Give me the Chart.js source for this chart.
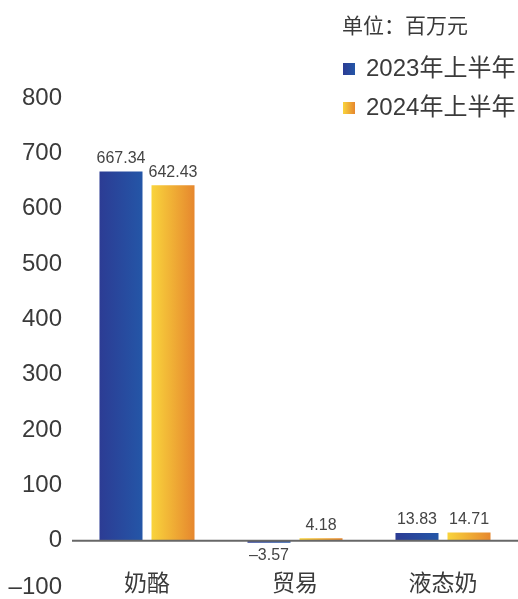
<!DOCTYPE html>
<html>
<head>
<meta charset="utf-8">
<script src="https://cdn.jsdelivr.net/npm/chart.js@4/dist/chart.umd.min.js"></script>
<style>
  html, body { margin: 0; padding: 0; background: #ffffff; }
  #wrap { position: relative; width: 518px; height: 599px; }
</style>
</head>
<body>
<div id="wrap"><canvas id="c" width="518" height="599"></canvas></div>
<script>
// Segment profit, millions of yuan
const categories = ['奶酪', '贸易', '液态奶'];
const seriesNames = ['2023年上半年', '2024年上半年'];
const values2023 = [667.34, -3.57, 13.83];
const values2024 = [642.43, 4.18, 14.71];
const yTicks = [800, 700, 600, 500, 400, 300, 200, 100, 0, -100];
const unitText = '单位：百万元';

const FONT = '"Liberation Sans", "Noto Sans CJK SC", sans-serif';
const CAT_PCT = 0.703;
const BAR_PCT = 0.827;

const palette = [
  ['#2C3C94', '#2456A7'],
  ['#F9D43C', '#E6872E']
];

// Horizontal gradient across each bar, computed from the x scale geometry
function barGradient(ctx) {
  const chart = ctx.chart;
  const xs = chart.scales.x;
  const colors = palette[ctx.datasetIndex];
  if (!xs || !chart.chartArea) return colors[0];
  const n = categories.length;
  const catW = xs.width / n;
  const groupW = catW * CAT_PCT;
  const barW = groupW / 2 * BAR_PCT;
  const cx = xs.getPixelForValue(ctx.dataIndex) + (ctx.datasetIndex === 0 ? -groupW / 4 : groupW / 4);
  const g = chart.ctx.createLinearGradient(cx - barW / 2, 0, cx + barW / 2, 0);
  g.addColorStop(0, colors[0]);
  g.addColorStop(1, colors[1]);
  return g;
}

function fmt(v) {
  return (v < 0 ? '–' + Math.abs(v).toFixed(2) : v.toFixed(2));
}

const decorations = {
  id: 'decorations',
  afterDatasetsDraw(chart) {
    const c = chart.ctx;
    const ys = chart.scales.y;
    const xs = chart.scales.x;
    const zeroY = ys.getPixelForValue(0);

    // zero line over the bar bases
    c.save();
    c.strokeStyle = '#676767';
    c.lineWidth = 2;
    c.beginPath();
    c.moveTo(72, zeroY);
    c.lineTo(chart.width, zeroY);
    c.stroke();

    // value labels
    c.fillStyle = '#444444';
    c.font = '16px ' + FONT;
    c.textAlign = 'center';
    c.textBaseline = 'middle';
    chart.data.datasets.forEach((ds, di) => {
      const meta = chart.getDatasetMeta(di);
      meta.data.forEach((bar, i) => {
        const v = ds.data[i];
        const y = v >= 0 ? bar.y - 13 : bar.y + 13;
        c.fillText(fmt(v), bar.x, y);
      });
    });

    // y tick labels
    c.fillStyle = '#3a3a3a';
    c.font = '24px ' + FONT;
    c.textAlign = 'right';
    yTicks.forEach(t => {
      let y = ys.getPixelForValue(t);
      y = Math.min(y, chart.height - 12);
      c.fillText(t < 0 ? '–' + Math.abs(t) : String(t), 62, y);
    });

    // category labels
    c.textAlign = 'center';
    c.font = '23px ' + FONT;
    categories.forEach((cat, i) => {
      c.fillText(cat, xs.getPixelForValue(i), 585);
    });

    // unit and legend
    c.textAlign = 'left';
    c.font = '21px ' + FONT;
    c.fillText(unitText, 342, 27);
    c.font = '24px ' + FONT;
    seriesNames.forEach((name, i) => {
      const y = 69 + i * 39;
      const g = c.createLinearGradient(343, 0, 355, 0);
      g.addColorStop(0, palette[i][0]);
      g.addColorStop(1, palette[i][1]);
      c.fillStyle = g;
      c.fillRect(343, y - 6, 12, 12);
      c.fillStyle = '#3a3a3a';
      c.fillText(name, 366, y);
    });
    c.restore();
  }
};

new Chart(document.getElementById('c'), {
  type: 'bar',
  data: {
    labels: categories,
    datasets: [
      { label: seriesNames[0], data: values2023, backgroundColor: barGradient },
      { label: seriesNames[1], data: values2024, backgroundColor: barGradient }
    ]
  },
  options: {
    responsive: false,
    animation: false,
    events: [],
    categoryPercentage: CAT_PCT,
    barPercentage: BAR_PCT,
    layout: { padding: { left: 73, right: 1, top: 98, bottom: 3 } },
    scales: {
      x: { display: false },
      y: { display: false, min: -100, max: 800 }
    },
    plugins: {
      legend: { display: false },
      tooltip: { enabled: false }
    }
  },
  plugins: [decorations]
});
</script>
</body>
</html>
